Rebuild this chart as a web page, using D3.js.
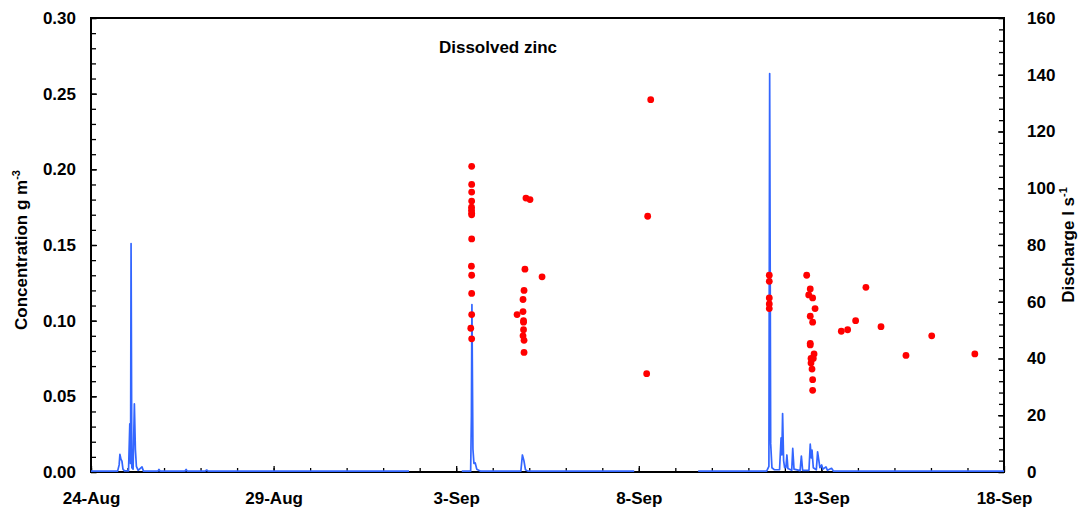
<!DOCTYPE html>
<html>
<head>
<meta charset="utf-8">
<script src="https://cdn.jsdelivr.net/npm/d3@7"></script>
<style>
  body { margin: 0; background: #fff; }
  svg text { font-family: "Liberation Sans", Arial, sans-serif; font-weight: bold; fill: #000; }
</style>
</head>
<body>
<div id="chart"></div>
<script>
// Dissolved zinc concentration samples (g m-3)
const zincTimes = [
  "2003-09-03 10:10", "2003-09-03 10:10", "2003-09-03 10:10", "2003-09-03 10:10", "2003-09-03 10:05",
  "2003-09-03 10:05", "2003-09-03 10:10", "2003-09-03 10:10", "2003-09-03 10:10", "2003-09-03 10:00",
  "2003-09-03 10:10", "2003-09-03 10:10", "2003-09-03 10:10", "2003-09-03 09:35", "2003-09-03 10:10",
  "2003-09-04 21:50", "2003-09-05 00:30", "2003-09-04 21:10", "2003-09-05 08:25", "2003-09-04 20:35",
  "2003-09-04 19:55", "2003-09-04 19:55", "2003-09-04 16:00", "2003-09-04 20:15", "2003-09-04 20:15",
  "2003-09-04 20:15", "2003-09-04 19:55", "2003-09-04 20:35", "2003-09-04 20:35",
  "2003-09-08 07:50", "2003-09-08 05:50", "2003-09-08 05:10",
  "2003-09-11 13:45", "2003-09-11 13:45", "2003-09-11 13:45", "2003-09-11 13:45", "2003-09-11 13:45",
  "2003-09-12 14:20", "2003-09-12 16:40", "2003-09-12 15:40", "2003-09-12 18:15", "2003-09-12 19:50",
  "2003-09-12 16:40", "2003-09-12 18:15", "2003-09-12 16:40", "2003-09-12 16:40", "2003-09-12 19:10",
  "2003-09-12 17:10", "2003-09-12 18:40", "2003-09-12 17:10", "2003-09-12 17:50", "2003-09-12 18:15",
  "2003-09-12 18:15",
  "2003-09-13 13:05", "2003-09-13 17:15", "2003-09-13 22:30", "2003-09-14 05:15", "2003-09-14 15:10",
  "2003-09-15 07:35", "2003-09-16 00:30", "2003-09-17 04:50"
];
const zincConc = [
  0.202, 0.190, 0.185, 0.179, 0.175,
  0.173, 0.171, 0.170, 0.154, 0.136,
  0.130, 0.118, 0.104, 0.095, 0.088,
  0.181, 0.180, 0.134, 0.129, 0.120,
  0.114, 0.106, 0.104, 0.100, 0.099,
  0.094, 0.090, 0.087, 0.079,
  0.246, 0.169, 0.065,
  0.130, 0.126, 0.115, 0.111, 0.108,
  0.130, 0.121, 0.117, 0.115, 0.108,
  0.103, 0.099, 0.085, 0.084, 0.078,
  0.075, 0.075, 0.072, 0.068, 0.061,
  0.054,
  0.093, 0.094, 0.100, 0.122, 0.096,
  0.077, 0.090, 0.078
];

// Stream discharge (l s-1); null marks a gap in the record
const flowTimes = [
  "2003-08-24 00:00", "2003-08-24 17:30", "2003-08-24 18:30", "2003-08-24 19:00", "2003-08-24 19:40",
  "2003-08-24 20:20", "2003-08-24 21:00", "2003-08-24 22:00", "2003-08-25 00:40", "2003-08-25 01:30",
  "2003-08-25 02:00", "2003-08-25 02:20", "2003-08-25 02:50", "2003-08-25 03:40", "2003-08-25 04:30",
  "2003-08-25 05:10", "2003-08-25 05:50", "2003-08-25 07:00", "2003-08-25 09:30", "2003-08-25 10:30",
  "2003-08-25 20:00", "2003-08-25 20:40", "2003-08-25 21:30", "2003-08-26 13:40", "2003-08-26 14:30",
  "2003-08-26 15:20", "2003-08-27 03:00", "2003-08-27 04:00", "2003-08-27 05:00", "2003-09-01 17:00",
  "2003-09-01 18:00", "2003-09-03 03:00",
  "2003-09-03 03:40", "2003-09-03 09:30", "2003-09-03 10:00", "2003-09-03 10:20", "2003-09-03 11:00",
  "2003-09-03 11:40", "2003-09-03 12:30", "2003-09-03 13:30", "2003-09-03 16:00",
  "2003-09-04 18:30", "2003-09-04 19:30", "2003-09-04 20:30", "2003-09-04 21:30", "2003-09-04 23:00",
  "2003-09-07 21:00", "2003-09-07 22:00", "2003-09-09 14:00",
  "2003-09-09 15:00", "2003-09-11 12:00", "2003-09-11 13:30", "2003-09-11 14:00", "2003-09-11 14:40",
  "2003-09-11 15:30", "2003-09-11 17:00", "2003-09-11 20:30", "2003-09-11 21:30", "2003-09-11 22:00",
  "2003-09-11 22:30", "2003-09-11 23:10", "2003-09-11 23:50", "2003-09-12 00:40", "2003-09-12 01:20",
  "2003-09-12 02:00", "2003-09-12 04:30", "2003-09-12 05:10", "2003-09-12 06:00", "2003-09-12 10:00",
  "2003-09-12 10:50", "2003-09-12 11:40", "2003-09-12 15:50", "2003-09-12 16:40", "2003-09-12 17:20",
  "2003-09-12 17:50", "2003-09-12 18:40", "2003-09-12 20:40", "2003-09-12 21:30", "2003-09-12 23:00",
  "2003-09-13 00:10", "2003-09-13 01:00", "2003-09-13 03:00", "2003-09-13 04:00", "2003-09-13 06:40",
  "2003-09-13 08:00", "2003-09-18 00:00"
];
const flowValues = [
  0.3, 0.3, 2.5, 6.2, 4.5,
  3.8, 1.0, 0.4, 0.4, 17,
  3, 80.5, 1.5, 1.0, 24,
  8, 2, 0.6, 1.8, 0.3,
  0.3, 0.9, 0.3, 0.3, 0.9,
  0.3, 0.3, 0.7, 0.3, 0.3,
  null, null,
  0.3, 0.3, 20, 59, 8,
  3, 3.2, 1.0, 0.3,
  0.3, 6.0, 4.0, 0.8, 0.3,
  0.3, null, null,
  0.3, 0.3, 2, 140.4, 10,
  1.5, 0.8, 0.8, 12, 6,
  20.6, 4, 1.5, 1.5, 6,
  1.2, 0.6, 8.3, 1.0, 0.5,
  5.6, 0.6, 0.6, 9.8, 5,
  7.7, 1.5, 0.8, 7.1, 1.5,
  2.5, 1.0, 1.8, 0.6, 1.3,
  0.3, 0.3
];

// Axis ticks
const xTickDates = ["2003-08-24", "2003-08-29", "2003-09-03", "2003-09-08", "2003-09-13", "2003-09-18"];
const concTicks = [0, 0.05, 0.10, 0.15, 0.20, 0.25, 0.30];
const flowTicks = [0, 20, 40, 60, 80, 100, 120, 140, 160];

const parseTime = d3.timeParse("%Y-%m-%d %H:%M");
const parseDay = d3.timeParse("%Y-%m-%d");

const zinc = zincTimes.map((t, i) => ({ t: parseTime(t), c: zincConc[i] }));
const flow = flowTimes.map((t, i) => ({ t: parseTime(t), q: flowValues[i] }));
const xTicks = xTickDates.map(parseDay);

const W = 1082, H = 514;
const margin = { top: 18, right: 78, bottom: 42, left: 91 };
const width = W - margin.left - margin.right;
const height = H - margin.top - margin.bottom;

const svg = d3.select("#chart")
  .append("svg")
  .attr("width", W)
  .attr("height", H);

const g = svg.append("g")
  .attr("transform", `translate(${margin.left},${margin.top})`);

const x = d3.scaleTime()
  .domain([xTicks[0], xTicks[xTicks.length - 1]])
  .range([0, width]);

const yConc = d3.scaleLinear().domain([0, 0.30]).range([height, 0]);
const yFlow = d3.scaleLinear().domain([0, 160]).range([height, 0]);

// Minor ticks (inside)
g.append("g")
  .attr("transform", `translate(0,${height})`)
  .call(d3.axisBottom(x).tickValues(d3.timeDay.range(xTicks[0], xTicks[xTicks.length - 1])).tickSize(-4).tickFormat(""))
  .call(a => a.select(".domain").remove());

g.append("g")
  .call(d3.axisLeft(yConc).tickValues(d3.range(0, 0.3001, 0.01)).tickSize(-5).tickFormat(""))
  .call(a => a.select(".domain").remove());

g.append("g")
  .attr("transform", `translate(${width},0)`)
  .call(d3.axisRight(yFlow).tickValues(d3.range(0, 161, 4)).tickSize(-5).tickFormat(""))
  .call(a => a.select(".domain").remove());

// Major ticks and labels
const xAxis = g.append("g")
  .attr("transform", `translate(0,${height})`)
  .call(d3.axisBottom(x).tickValues(xTicks).tickSize(-6).tickPadding(20).tickFormat(d3.timeFormat("%-d-%b")));
xAxis.select(".domain").remove();
xAxis.selectAll("text").style("font-size", "17px");

const yAxisL = g.append("g")
  .call(d3.axisLeft(yConc).tickValues(concTicks).tickSize(-6).tickPadding(15).tickFormat(d3.format(".2f")));
yAxisL.select(".domain").remove();
yAxisL.selectAll("text").style("font-size", "17px");

const yAxisR = g.append("g")
  .attr("transform", `translate(${width},0)`)
  .call(d3.axisRight(yFlow).tickValues(flowTicks).tickSize(-6).tickPadding(23).tickFormat(d3.format("d")));
yAxisR.select(".domain").remove();
yAxisR.selectAll("text").style("font-size", "17px");

g.selectAll(".tick line").attr("stroke", "#000").attr("stroke-width", 1.3);

// Discharge line
const line = d3.line()
  .defined(d => d.q != null)
  .x(d => x(d.t))
  .y(d => yFlow(d.q));

// Plot frame
g.append("rect")
  .attr("width", width)
  .attr("height", height)
  .attr("fill", "none")
  .attr("stroke", "#000")
  .attr("stroke-width", 2);

g.append("path")
  .datum(flow)
  .attr("fill", "none")
  .attr("stroke", "#3366ff")
  .attr("stroke-width", 1.7)
  .attr("stroke-linejoin", "round")
  .attr("d", line);

// Concentration points
g.selectAll(".dot")
  .data(zinc)
  .enter()
  .append("circle")
  .attr("class", "dot")
  .attr("cx", d => x(d.t))
  .attr("cy", d => yConc(d.c))
  .attr("r", 3.4)
  .attr("fill", "#ff0000");

// Title inside plot
g.append("text")
  .attr("x", 498 - margin.left)
  .attr("y", 53 - margin.top)
  .attr("text-anchor", "middle")
  .style("font-size", "17px")
  .text("Dissolved zinc");

// Axis titles
const leftTitle = svg.append("text")
  .attr("transform", "translate(27,250) rotate(-90)")
  .attr("text-anchor", "middle")
  .style("font-size", "17px");
leftTitle.append("tspan").text("Concentration g m");
leftTitle.append("tspan").attr("dy", "-7").style("font-size", "11px").text("-3");

const rightTitle = svg.append("text")
  .attr("transform", "translate(1074,245) rotate(-90)")
  .attr("text-anchor", "middle")
  .style("font-size", "17px");
rightTitle.append("tspan").text("Discharge l s");
rightTitle.append("tspan").attr("dy", "-7").style("font-size", "11px").text("-1");
</script>
</body>
</html>
